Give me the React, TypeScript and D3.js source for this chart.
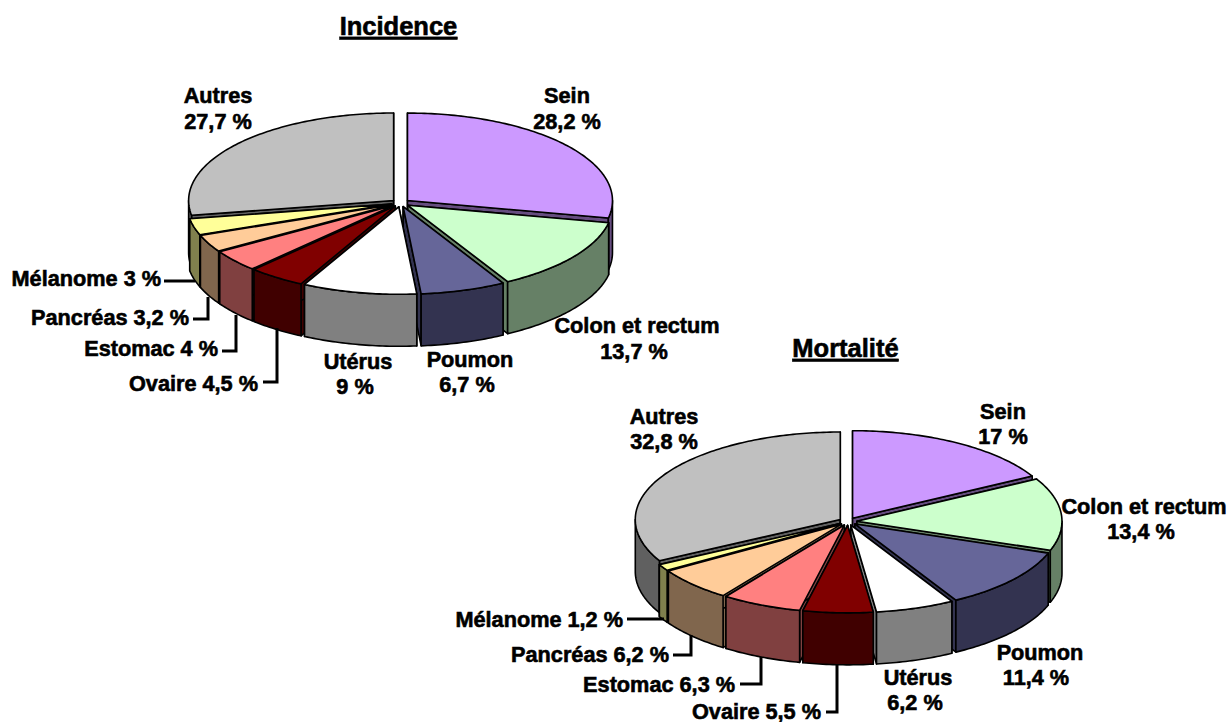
import React from "react";
import * as d3 from "d3";

const categories = ["Sein", "Colon et rectum", "Poumon", "Utérus", "Ovaire", "Estomac", "Pancréas", "Mélanome", "Autres"];
const incidence = [28.2, 13.7, 6.7, 9, 4.5, 4, 3.2, 3, 27.7];
const mortalite = [17, 13.4, 11.4, 6.2, 5.5, 6.3, 6.2, 1.2, 32.8];
const topColors = ["#CC99FF", "#CCFFCC", "#666699", "#FFFFFF", "#800000", "#FF8080", "#FFCC99", "#FFFF99", "#C0C0C0"];
const sideColors = ["#664D80", "#668066", "#333350", "#808080", "#400000", "#804040", "#80664D", "#80804D", "#606060"];

const fmt = (v: number) => String(v).replace(".", ",") + " %";

const RX = 205, RY = 87.5, DEPTH = 52, EXPLODE = 9;
const FONT = "'Liberation Sans', Arial, sans-serif";

type Lab = { x: number; y: number; two: boolean; dx2?: number };
type Lead = number[][];

const labels1: Lab[] = [
  { x: 567, y: 95.5, two: true },
  { x: 637, y: 325.5, two: true, dx2: -3 },
  { x: 470, y: 359, two: true, dx2: -3 },
  { x: 358, y: 361, two: true, dx2: -3 },
  { x: 258, y: 383, two: false },
  { x: 218, y: 348, two: false },
  { x: 189, y: 317, two: false },
  { x: 161, y: 278.5, two: false },
  { x: 218, y: 95.5, two: true },
];
const leaders1: Record<number, Lead> = {
  7: [[164, 281], [195, 281]],
  6: [[193, 319], [208, 319], [208, 297]],
  5: [[222, 351], [236, 351], [236, 315]],
  4: [[263, 382], [277, 382], [277, 328]],
};
const labels2: Lab[] = [
  { x: 1003, y: 411, two: true },
  { x: 1144, y: 506, two: true, dx2: -3 },
  { x: 1040, y: 652, two: true, dx2: -4 },
  { x: 918, y: 677, two: true, dx2: -3 },
  { x: 821, y: 711, two: false },
  { x: 735, y: 684, two: false },
  { x: 669, y: 654, two: false },
  { x: 623, y: 619.5, two: false },
  { x: 664, y: 416, two: true },
];
const leaders2: Record<number, Lead> = {
  7: [[627, 619], [664, 619]],
  6: [[673, 655], [691, 655], [691, 635]],
  5: [[740, 684], [761, 684], [761, 657]],
  4: [[826, 712], [837, 712], [837, 665]],
};

function Pie3D({ values, cx, cy }: { values: number[]; cx: number; cy: number }) {
  const arcs = d3.pie<number>().sort(null).value((d) => d)(values);
  const sx = d3.scaleLinear().domain([-1, 1]).range([-RX, RX]);
  const sy = d3.scaleLinear().domain([-1, 1]).range([-RY, RY]);
  const line = d3.line<[number, number]>();

  const slices = arcs.map((a, i) => {
    const mid = (a.startAngle + a.endAngle) / 2;
    const ox = cx + EXPLODE * Math.sin(mid);
    const oy = cy - EXPLODE * (RY / RX) * Math.cos(mid);
    const pt = (t: number, z = 0): [number, number] => [ox + sx(Math.sin(t)), oy + sy(-Math.cos(t)) + z];
    const apex: [number, number] = [ox, oy];
    const apexD: [number, number] = [ox, oy + DEPTH];
    const n = Math.max(2, Math.ceil((a.endAngle - a.startAngle) * 60));
    const rim = d3.range(n + 1).map((k) => a.startAngle + ((a.endAngle - a.startAngle) * k) / n);
    const top = line([apex, ...rim.map((t) => pt(t))]) + "Z";
    const wall = (t: number) => line([apex, pt(t), pt(t, DEPTH), apexD]) + "Z";
    const lo = Math.max(a.startAngle, Math.PI / 2);
    const hi = Math.min(a.endAngle, (3 * Math.PI) / 2);
    let front: string | null = null;
    if (hi > lo) {
      const m = Math.max(2, Math.ceil((hi - lo) * 60));
      const fr = d3.range(m + 1).map((k) => lo + ((hi - lo) * k) / m);
      front = line([...fr.map((t) => pt(t)), ...fr.slice().reverse().map((t) => pt(t, DEPTH))]) + "Z";
    }
    return { i, order: -Math.cos(mid), top, w1: wall(a.startAngle), w2: wall(a.endAngle), front };
  });
  const sorted = slices.slice().sort((p, q) => d3.ascending(p.order, q.order));
  const common = { stroke: "#000", strokeWidth: 1.6, strokeLinejoin: "round" as const };
  return (
    <g>
      {sorted.map((s) => (
        <g key={s.i}>
          <path d={s.w1} fill={sideColors[s.i]} {...common} />
          <path d={s.w2} fill={sideColors[s.i]} {...common} />
          {s.front && <path d={s.front} fill={sideColors[s.i]} {...common} />}
          <path d={s.top} fill={topColors[s.i]} {...common} />
        </g>
      ))}
    </g>
  );
}

const textStyle = { fontFamily: FONT, fontWeight: 700, fontSize: 21.7, fill: "#000", stroke: "#000", strokeWidth: 0.6 };

function Labels({ values, labs, leaders }: { values: number[]; labs: Lab[]; leaders: Record<number, Lead> }) {
  const line = d3.line();
  return (
    <g>
      {labs.map((l, i) =>
        l.two ? (
          <g key={i} style={textStyle}>
            <text x={l.x} y={l.y} dy="0.35em" textAnchor="middle">{categories[i]}</text>
            <text x={l.x + (l.dx2 || 0)} y={l.y + 25.5} dy="0.35em" textAnchor="middle">{fmt(values[i])}</text>
          </g>
        ) : (
          <text key={i} x={l.x} y={l.y} dy="0.35em" textAnchor="end" style={textStyle}>
            {categories[i] + " " + fmt(values[i])}
          </text>
        )
      )}
      {Object.entries(leaders).map(([k, pts]) => (
        <path key={k} d={line(pts as [number, number][]) || ""} fill="none" stroke="#000" strokeWidth={3} />
      ))}
    </g>
  );
}

function Title({ x, y, text }: { x: number; y: number; text: string }) {
  return (
    <text x={x} y={y} textAnchor="middle" dy="0.35em" textDecoration="underline"
      style={{ fontFamily: FONT, fontWeight: 700, fontSize: 25.5, fill: "#000", stroke: "#000", strokeWidth: 0.6 }}>
      {text}
    </text>
  );
}

export default function App() {
  return (
    <svg width={1228} height={722} style={{ position: "absolute", left: 0, top: 0, background: "#fff" }}>
      <Title x={398.5} y={26} text="Incidence" />
      <Title x={845.5} y={348} text="Mortalité" />
      <Pie3D values={incidence} cx={400.5} cy={203} />
      <Pie3D values={mortalite} cx={848} cy={521.5} />
      <Labels values={incidence} labs={labels1} leaders={leaders1} />
      <Labels values={mortalite} labs={labels2} leaders={leaders2} />
    </svg>
  );
}
